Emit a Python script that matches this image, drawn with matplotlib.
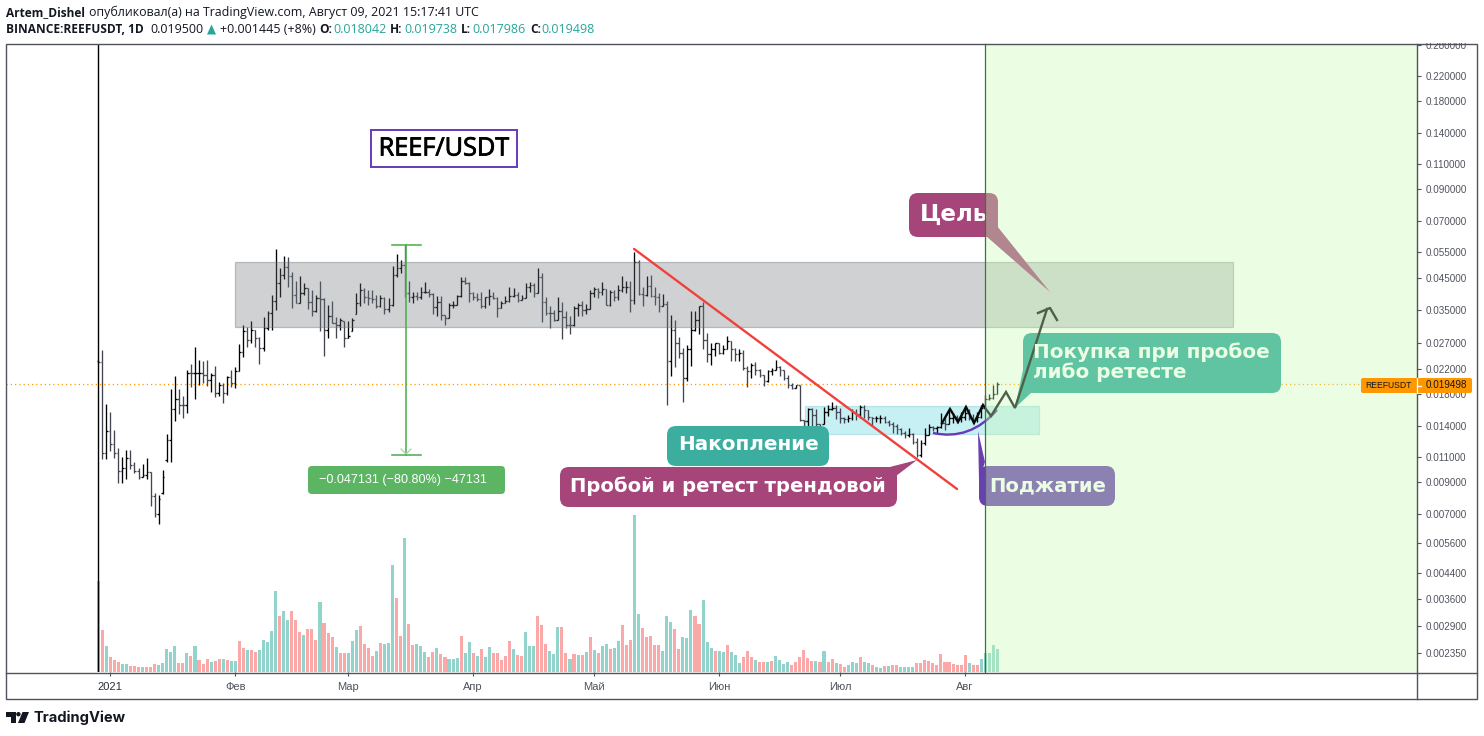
import numpy as np
import matplotlib
matplotlib.use("Agg")
import matplotlib.pyplot as plt
import matplotlib.patheffects as pe
from matplotlib.patches import Rectangle, FancyBboxPatch, Polygon, PathPatch, Circle
from matplotlib.path import Path

W, H = 1484, 736
FIRST_DAY = -3  # 29 Dec 2020, days counted from 1 Jan 2021

# Daily bars, milli-USDT
highs = [23.6,25.4,16.7,15.7,13.6,11.8,11.0,11.6,11.6,10.6,
 10.1,10.4,10.9,9.79,8.26,8.14,9.9,13.2,18.8,20.8,
 18.8,17.8,21.7,22.9,26.1,23.5,23.3,23.6,21.2,22.4,
 19.8,19.7,20.8,21.8,22.3,26.8,30.9,30.5,32.0,29.9,
 28.2,33.0,34.5,39.3,56.2,48.5,53.4,53.1,47.2,43.7,
 45.6,43.3,41.4,40.7,39.3,43.7,38.3,36.2,37.5,33.0,
 32.7,31.9,31.9,32.7,39.8,43.1,41.6,40.7,40.7,39.3,
 39.3,38.8,38.3,49.3,54.2,51.7,58.3,
 43.7,40.3,40.1,41.9,43.4,41.1,39.8,39.0,39.0,33.6,
 36.8,37.6,39.2,45.2,45.2,43.4,40.3,39.8,40.1,38.8,
 41.2,40.3,38.6,37.6,39.0,41.7,41.4,40.3,39.3,43.1,
 43.4,43.1,48.5,46.8,38.8,36.0,34.9,38.8,37.3,34.5,
 33.4,35.9,36.8,37.5,36.6,40.9,41.7,41.4,43.4,41.2,
 40.9,40.7,42.5,45.6,44.0,43.7,54.9,51.7,41.9,45.6,
 46.0,41.9,39.8,39.5,37.5,33.5,32.3,28.2,25.9,26.5,
 34.6,34.6,36.0,37.3,29.1,27.0,26.9,26.9,26.5,28.5,
 27.3,25.9,25.6,25.4,22.4,23.0,23.2,21.9,21.0,21.8,
 22.1,23.6,22.4,21.8,21.0,19.7,19.3,19.3,14.7,16.2,
 16.1,16.0,14.2,16.3,16.5,16.9,16.5,16.2,15.1,15.3,
 16.0,16.0,16.5,16.5,15.9,15.1,15.2,15.3,15.2,14.7,
 14.5,14.2,13.8,13.5,13.8,13.3,12.8,12.6,13.8,14.2,
 14.0,14.0,15.5,15.1,16.0,15.5,15.3,15.6,16.3,16.0,
 15.4,15.7,16.6,17.9,18.1,19.4,19.738]
lows = [23.1,10.8,10.8,11.5,10.9,8.99,8.99,9.23,10.0,9.67,
 9.23,9.37,9.23,7.49,6.84,6.50,8.22,10.6,10.6,14.6,
 15.4,14.9,15.5,19.1,17.4,19.4,19.6,19.2,18.3,17.6,
 17.7,16.8,17.9,19.1,18.9,21.6,24.1,26.0,26.9,26.0,
 22.9,25.2,29.9,29.9,34.8,38.6,44.5,41.7,35.4,36.8,
 37.0,39.3,35.1,33.3,34.4,29.5,24.4,27.9,31.4,28.1,
 29.9,26.0,28.1,29.7,33.9,35.9,36.8,36.3,36.8,35.4,
 35.6,33.8,34.4,35.9,45.2,46.6,38.6,
 37.3,37.0,37.9,38.0,39.8,38.6,33.9,33.2,32.3,31.1,
 32.8,35.4,36.2,38.8,42.7,37.3,37.8,37.5,35.4,35.4,
 36.2,38.0,33.0,35.4,36.8,37.3,38.8,37.3,37.8,38.3,
 40.3,38.8,40.0,31.7,33.6,30.2,31.9,32.3,27.8,30.2,
 28.8,30.7,33.2,33.3,33.9,35.2,38.8,38.3,39.3,36.2,
 35.9,37.6,37.8,40.3,39.8,34.4,36.6,39.3,35.9,39.0,
 38.8,36.3,34.4,35.9,16.6,20.8,22.3,24.0,16.9,19.9,
 22.4,29.5,29.0,25.6,23.1,22.6,24.3,24.6,24.6,25.6,
 23.3,23.3,23.3,21.8,19.0,20.5,21.0,20.6,19.2,19.8,
 21.0,21.8,20.7,20.2,18.9,18.7,18.9,14.6,12.1,13.1,
 14.0,13.3,13.1,14.2,15.2,15.9,14.8,14.4,14.4,14.5,
 14.7,14.7,14.9,14.9,14.7,14.0,14.5,14.4,14.4,14.0,
 13.3,13.2,13.1,12.8,12.9,12.2,11.0,11.0,12.1,13.1,
 13.5,13.2,13.8,13.6,14.2,14.4,14.4,14.5,14.7,14.7,
 14.4,14.5,14.9,16.2,17.2,17.3,17.986]
opens = [23.4,23.2,11.3,13.5,12.2,11.3,9.83,10.1,10.9,10.3,
 9.88,9.37,9.55,9.79,8.09,7.02,8.3,10.7,12.6,16.0,
 17.3,16.6,16.5,21.3,21.2,21.2,21.2,21.0,20.1,21.0,
 18.2,19.4,18.2,20.6,19.7,21.6,25.0,29.7,27.6,29.9,
 28.1,25.9,30.4,34.2,37.5,43.1,46.0,49.1,45.6,39.3,
 37.0,39.8,41.6,37.3,34.7,38.3,38.0,29.9,33.3,31.5,
 31.1,32.3,28.1,28.5,32.3,36.8,40.9,38.8,38.3,38.0,
 36.0,38.3,35.1,36.3,46.0,48.4,49.7,
 40.0,38.6,39.0,38.8,40.1,40.3,39.6,35.7,37.2,33.5,
 32.8,36.2,36.2,39.1,43.7,43.1,39.8,38.8,38.0,35.9,
 38.6,39.0,38.3,35.4,36.8,37.6,39.1,39.3,37.8,38.5,
 41.7,42.5,40.0,45.2,37.3,34.2,34.0,32.3,34.7,33.0,
 31.1,30.9,35.4,36.3,34.9,35.2,39.8,41.2,40.3,41.1,
 36.3,40.3,38.8,40.9,41.7,41.9,37.8,50.7,39.6,39.3,
 42.2,39.1,38.8,36.0,36.6,23.3,29.9,26.9,24.8,20.4,
 25.6,29.9,32.3,35.9,27.6,24.7,25.6,26.9,24.9,25.6,
 27.3,25.6,24.6,24.9,22.1,21.6,22.7,21.8,21.0,19.9,
 21.6,21.8,22.3,21.8,20.5,19.3,18.9,19.3,14.7,14.6,
 16.0,15.3,14.2,14.2,15.7,16.0,16.2,15.7,14.9,14.8,
 14.9,15.7,15.4,16.3,15.9,15.0,14.9,14.9,14.9,14.5,
 14.2,14.0,13.7,13.3,13.1,13.2,12.4,11.2,12.3,13.1,
 13.9,13.8,13.9,14.4,14.2,14.9,15.1,14.8,15.1,15.5,
 14.9,14.7,15.1,16.2,17.3,17.5,18.042]
closes = [23.2,11.3,13.5,12.2,11.3,9.83,10.1,10.9,10.3,9.88,
 9.37,9.55,9.79,8.09,7.02,7.88,9.37,12.6,16.0,17.3,
 16.6,16.5,21.3,21.2,21.2,21.2,21.0,20.1,21.0,18.2,
 19.4,18.2,20.6,19.7,21.6,25.0,29.7,27.6,29.9,28.1,
 25.9,30.4,34.2,37.5,43.1,46.0,49.1,45.6,39.3,37.0,
 39.8,41.6,37.3,34.7,38.3,38.0,29.9,33.3,31.5,31.1,
 32.3,28.1,28.5,32.3,36.8,40.9,38.8,38.3,38.0,36.0,
 38.3,35.1,36.3,46.0,48.4,49.7,40.0,
 38.6,39.0,38.8,40.1,40.3,39.6,35.7,37.2,33.5,32.8,
 36.2,36.2,39.1,43.7,43.1,39.8,38.8,38.0,35.9,38.6,
 39.0,38.3,35.4,36.8,37.6,39.1,39.3,37.8,38.5,41.7,
 42.5,40.0,45.2,37.3,34.2,34.0,32.3,34.7,33.0,31.1,
 30.9,35.4,36.3,34.9,35.2,39.8,41.2,40.3,41.1,36.3,
 40.3,38.8,40.9,41.7,41.9,37.8,50.7,39.6,39.3,42.2,
 39.1,38.8,36.0,36.6,23.3,29.9,26.9,24.8,20.4,25.6,
 29.9,32.3,35.9,27.6,24.7,25.6,26.9,24.9,25.6,27.3,
 25.6,24.6,24.9,22.1,21.6,22.7,21.8,21.0,19.9,21.6,
 21.8,22.3,21.8,20.5,19.3,18.9,19.3,14.7,14.6,16.0,
 15.3,14.2,13.8,15.7,16.0,16.2,15.7,14.9,14.8,14.9,
 15.7,15.4,16.3,15.9,15.0,14.9,14.9,14.9,14.5,14.2,
 14.0,13.7,13.3,13.1,13.2,12.4,11.2,12.3,13.1,13.9,
 13.8,13.9,14.4,14.2,14.9,15.1,14.8,15.1,15.5,14.9,
 14.7,15.1,16.2,17.3,17.5,18.0,19.498]

# Volume (relative units) and bar direction
volumes = [91,42,26,15,12,10,8,8,6,6,5,5,5,5,8,7,9,23,20,26,
 9,9,19,16,26,12,8,13,10,11,13,13,12,11,11,31,24,22,22,20,
 22,32,30,41,81,56,61,52,61,52,40,37,43,43,32,70,49,39,35,25,
 19,19,19,31,42,46,28,24,16,21,29,28,29,107,74,36,134,48,27,28,
 26,20,15,20,24,18,15,13,13,14,36,19,30,19,16,23,15,25,19,19,
 12,16,31,23,17,16,40,26,26,56,47,28,21,18,45,45,19,13,18,17,
 17,20,35,22,19,26,28,23,24,31,47,27,32,157,58,44,35,36,27,27,
 21,56,50,43,23,35,34,62,56,48,72,30,24,21,21,20,27,20,17,9,
 15,21,15,12,10,10,10,11,16,12,8,10,7,10,15,22,14,11,11,10,
 21,10,13,9,8,5,7,10,9,15,10,9,7,5,4,6,6,7,7,5,
 5,5,5,9,9,12,11,9,7,18,10,10,8,7,7,17,9,7,7,13,
 19,19,27,23]
volume_dir = ("grgrrrggrrrgrrrggggg"
              "rrgrgrrrgrrgrggrrgrr"
              "gggggrggrrrgrrrgrrrg"
              "rrgggrrrrgrgggrrgrrg"
              "ggrrgrrgggrggrgrggrr"
              "rrrgrrgggrrrgggrrgrg"
              "rgrgrggrggrrrggrrrrr"
              "gggrrgggrrgggrggrggg"
              "rrrgrrgrggggrrrrrrgr"
              "grrgrrgggrggrggrgrrg"
              "gggrrrrrrrrrrrrrgrrg"
              "gggg")
price_ticks = [0.28,0.22,0.18,0.14,0.11,0.09,0.07,0.055,0.045,0.035,0.027,0.022,
               0.018,0.014,0.011,0.009,0.007,0.0056,0.0044,0.0036,0.0029,0.00235]
month_days = [0,31,59,90,120,151,181,212]
month_labels = ["2021","Фев","Мар","Апр","Май","Июн","Июл","Авг"]
last_close = 0.019498

# Drawings anchored on the chart (day, price)
range_days, range_prices = (30.9,278.4), (0.0305,0.0509)
accum_days, accum_prices = (172.3,230.3), (0.01316,0.01641)
trend_days, trend_prices = (129.9,210.0), (0.0564,0.00854)
meas_day, meas_cap_days, meas_prices = 73.3, (69.9,77.0), (0.0583,0.0112)

plt.rcParams["font.family"] = ["Liberation Sans", "DejaVu Sans"]
GRAY = "#50535e"
UP, DOWN = "#000000", "#434651"

fig = plt.figure(figsize=(W/100, H/100), dpi=100, facecolor="white")
ax = fig.add_axes([6/W, 1-672/H, (1417-6)/W, (672-44)/H], zorder=1)
ax.set_yscale("log")
ax.set_xlim((6-110.3)/4.0323, (1417-110.3)/4.0323)
ax.set_ylim(0.002027, 0.2825)
for s in ax.spines.values():
    s.set_visible(False)

days = np.arange(len(closes)) + FIRST_DAY
hi, lo = np.array(highs)/1000, np.array(lows)/1000
op = np.clip(np.array(opens)/1000, lo, hi)    # a tick never lies outside its own bar
cl = np.clip(np.array(closes)/1000, lo, hi)
cols = [UP if c >= o else DOWN for o, c in zip(op, cl)]
TICK = 0.42
for coll in (ax.vlines(days, lo, hi, colors=cols, linewidth=0.95, zorder=3),
             ax.hlines(op, days-TICK, days, colors=cols, linewidth=0.95, zorder=3),
             ax.hlines(cl, days, days+TICK, colors=cols, linewidth=0.95, zorder=3)):
    coll.set_snap(True)

ax.axhline(last_close, color="#ff9800", lw=0.9, ls=(0, (1, 2.4)), zorder=2)

ax.add_patch(Rectangle((range_days[0], range_prices[0]), range_days[1]-range_days[0],
             range_prices[1]-range_prices[0], fc=(0.44,0.46,0.48,0.33),
             ec=(0.44,0.46,0.48,0.42), lw=0.9, zorder=4))
ax.add_patch(Rectangle((accum_days[0], accum_prices[0]), accum_days[1]-accum_days[0],
             accum_prices[1]-accum_prices[0], fc=(0,0.737,0.83,0.22),
             ec=(0,0.6,0.6,0.2), lw=0.9, zorder=2))
ax.plot(trend_days, trend_prices, color="#f0413d", lw=1.7, zorder=5, solid_capstyle="round")
G = "#4caf50"
ax.plot([meas_day, meas_day], meas_prices, color=G, lw=1.15, zorder=5)
for p in meas_prices:
    ax.plot(meas_cap_days, [p, p], color=G, lw=1.15, zorder=5)

axv = ax.twinx()
axv.set_zorder(2)
axv.patch.set_visible(False)
axv.set_ylim(0, 628)
axv.set_yticks([])
for s in axv.spines.values():
    s.set_visible(False)
axv.bar(days, volumes, width=0.76,
        color=["#92d3cc" if d == "g" else "#faa8a8" for d in volume_dir], linewidth=0)
axv.axvline(FIRST_DAY, color="black", lw=1.0)

# twinx moves the price scale to the left, so it is configured after it
ax.minorticks_off()
ax.yaxis.tick_right()
ax.set_yticks(price_ticks)
ax.set_yticklabels([f"{t:.6f}" for t in price_ticks], fontsize=7.1, color=GRAY)
ax.tick_params(axis="y", which="major", right=True, left=False, labelright=True, labelleft=False,
               length=2.9, width=0.8, color=GRAY, pad=3.4)
ax.tick_params(axis="y", which="minor", length=0, right=False, left=False)
ax.set_xticks(month_days)
ax.set_xticklabels(month_labels, fontsize=8.0, color=GRAY)
ax.tick_params(axis="x", length=2.9, width=0.8, color=GRAY, pad=4.2)
ax.get_xticklabels()[0].set_color("#2a2e39")

# Overlay in picture pixels for the callouts, frame and header
ov = fig.add_axes([0, 0, 1, 1], zorder=5)
ov.set_xlim(0, W)
ov.set_ylim(H, 0)
ov.axis("off")
ov.patch.set_visible(False)

def box(x0, y0, x1, y1, color, r=9, z=3, **kw):
    ov.add_patch(FancyBboxPatch((x0, y0), x1-x0, y1-y0, boxstyle=f"round,pad=0,rounding_size={r}",
                                fc=color, ec="none", zorder=z, **kw))

PINK, TEAL, PURPLE, BUY = "#a5457a", "#3cae9f", "#6a3fb0", "#26a798"
BOLD = dict(family=["DejaVu Sans"], weight="bold", color="white", va="center", ha="left", zorder=4)
box(909, 193, 998, 237, PINK)
ov.add_patch(Polygon([(997,226),(1050,292),(986,236)], fc=PINK, ec="none", zorder=3))
ov.text(920, 214, "Цель", fontsize=16.6, **BOLD)
box(1023, 333, 1281, 393, BUY)
ov.add_patch(Polygon([(1024,365),(1015,408),(1032,392)], fc=BUY, ec="none", zorder=3))
ov.text(1033, 352, "Покупка при пробое", fontsize=14.45, **BOLD)
ov.text(1033, 372, "либо ретесте", fontsize=14.45, **BOLD)
box(667, 426, 829, 466, TEAL)
ov.text(678, 445, "Накопление", fontsize=14.4, **BOLD)
box(560, 467, 897, 507, PINK)
ov.add_patch(Polygon([(886,468),(917,460),(896,476)], fc=PINK, ec="none", zorder=3))
ov.text(570, 486, "Пробой и ретест трендовой", fontsize=14.1, **BOLD)
box(979, 466, 1115, 506, PURPLE)
ov.add_patch(Polygon([(978,431),(985,462),(979,480)], fc=PURPLE, ec="none", zorder=3))
ov.text(989, 486, "Поджатие", fontsize=14.1, **BOLD)

# Pattern sketches
curve = Path([(933,433),(970,441),(997,410)], [Path.MOVETO, Path.CURVE3, Path.CURVE3])
ov.add_patch(PathPatch(curve, fc="none", ec="#673ab7", lw=1.7, zorder=2))
zx = [942,950,958,966,974,983,991,1006,1015,1047]
zy = [423,409,422,407,423,405,416,392,408,309]
ov.plot(zx, zy, color="#0a0a0a", lw=1.7, zorder=3.5, solid_joinstyle="miter")
ov.plot([1038,1050,1057],[313,308,320], color="#0a0a0a", lw=1.7, zorder=3.5)

# Measure label
box(308, 466, 505, 494, "#5cb563", r=4)
ov.text(319, 480.5, "\u22120.047131 (\u221280.80%) \u221247131", fontsize=9.1, color="white", va="center", ha="left", zorder=4)
ov.plot([401,406,411],[449,454,449], color="#a5d6a7", lw=0.9, zorder=3)

# Title box
ov.add_patch(Rectangle((371, 130), 146, 37, fc="white", ec="#673ab7", lw=1.4, zorder=3))
ov.text(444, 149, "REEF/USDT", family=["Open Sans"], fontsize=18.2, color="#000000", ha="center", va="center",
        zorder=4, path_effects=[pe.withStroke(linewidth=0.6, foreground="#000000")])

# Projected zone laid over the drawings
ov.add_patch(Rectangle((985, 44), 432, 628, fc=(200/255,250/255,180/255,0.36), ec="none", zorder=6))
ov.plot([985,985],[44,672], color="#2f7d2f", lw=0.9, zorder=7)

# White mask for clipped top label, frame
ov.add_patch(Rectangle((1418, 30), 60, 13.4, fc="white", ec="none", zorder=7))
ov.add_patch(Rectangle((6, 44), 1471, 655, fc="none", ec=GRAY, lw=1.0, zorder=8))
ov.plot([6,1477],[672.6,672.6], color=GRAY, lw=1.0, zorder=8)
ov.plot([1417,1417],[44,699], color=GRAY, lw=1.0, zorder=8)

# Last price tag
ORANGE = "#ff9800"
ov.add_patch(FancyBboxPatch((1361,378),111,15, boxstyle="round,pad=0,rounding_size=2", fc=ORANGE, ec="none", zorder=9))
ov.plot([1417,1417],[378,393], color="white", lw=0.9, zorder=10)
ov.plot([1417,1421],[385.5,385.5], color="white", lw=0.9, zorder=10)
ov.text(1365, 385.5, "REEFUSDT", fontsize=6.2, color="#131722", va="center", ha="left", zorder=10)
ov.text(1467, 385.5, "0.019498", fontsize=7.1, color="#131722", va="center", ha="right", zorder=10)

# Header
FONT = ["Open Sans", "DejaVu Sans"]
INK, UPC = "#131722", "#26a69a"
def hdr(x, y, s, color=INK, weight="normal", size=9.0):
    ov.text(x, y, s, family=FONT, color=color, weight=weight, fontsize=size, va="center", ha="left", zorder=10)
hdr(6, 12.5, "Artem_Dishel", weight="bold", size=8.6)
hdr(89, 12.5, "опубликовал(а) на TradingView.com, Август 09, 2021 15:17:41 UTC", size=8.9)
hdr(6, 29.5, "BINANCE:REEFUSDT, 1D", weight="bold", size=8.6)
hdr(150, 29.5, "0.019500")
ov.add_patch(Polygon([(207,34.5),(216,34.5),(211.5,24.5)], fc=UPC, ec="none", zorder=10))
hdr(220, 29.5, "+0.001445 (+8%)")
for x0, lab, x1, val in [(319,"O:",333,"0.018042"),(390,"H:",404,"0.019738"),
                         (461,"L:",472,"0.017986"),(530,"C:",541,"0.019498")]:
    hdr(x0, 29.5, lab, weight="bold", size=8.6)
    hdr(x1, 29.5, val, color=UPC)

# TradingView mark
C = "#131722"
ov.add_patch(Polygon([(6,712),(16,712),(16,723),(11,723),(11,716.5),(6,716.5)], fc=C, ec="none"))
ov.add_patch(Circle((18.4,714.2), 2.2, fc=C, ec="none"))
ov.add_patch(Polygon([(22.5,712),(29,712),(24.5,723),(18,723)], fc=C, ec="none"))
ov.text(33, 717.5, "TradingView", family=["Inter"], weight="bold", fontsize=10.6, color=C, va="center", ha="left")

fig.savefig("out.png", dpi=100)
